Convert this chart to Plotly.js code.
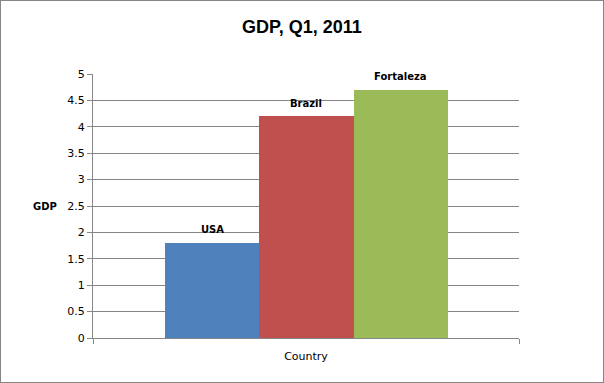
<!DOCTYPE html>
<html>
<head>
<meta charset="utf-8">
<script src="https://cdn.plot.ly/plotly-3.0.1.min.js"></script>
<style>
  html, body { margin: 0; padding: 0; background: #fff; }
  #wrap { position: relative; width: 604px; height: 383px; }
  #chart { position: absolute; left: 0; top: 0; width: 604px; height: 383px; }
  #frame { position: absolute; left: 0; top: 0; width: 604px; height: 383px; box-sizing: border-box; border: 1px solid #868686; pointer-events: none; }
</style>
</head>
<body>
<div id="wrap">
  <div id="chart"></div>
  <div id="frame"></div>
</div>
<script>
// Data
const countries = ['USA', 'Brazil', 'Fortaleza'];
const gdp = [1.8, 4.2, 4.7];
const barColors = ['#4F81BD', '#C0504D', '#9BBB59'];
const categoryLabel = 'Country';
const chartTitle = 'GDP, Q1, 2011';
const yTitle = 'GDP';

const gray = '#868686';
const xRange = [-1.263, 3.253];

const trace = {
  type: 'bar',
  x: countries,
  y: gdp,
  marker: { color: barColors, line: { width: 0 } },
  hoverinfo: 'skip'
};

const annotations = countries.map((c, i) => ({
  x: c, y: gdp[i], xref: 'x', yref: 'y',
  text: '<b>' + c + '</b>',
  showarrow: false, yanchor: 'middle', yshift: 13,
  font: { family: 'DejaVu Sans', size: 10, color: '#000' }
}));
annotations.push({
  xref: 'paper', yref: 'paper', x: -0.113, y: 0.5,
  xanchor: 'center', yanchor: 'middle', showarrow: false,
  text: '<b>' + yTitle + '</b>',
  font: { family: 'DejaVu Sans', size: 10, color: '#000' }
});

const layout = {
  width: 604, height: 383,
  margin: { l: 93, r: 85, t: 74, b: 45, pad: 0 },
  paper_bgcolor: '#fff', plot_bgcolor: '#fff',
  showlegend: false,
  bargap: 0,
  title: {
    text: '<b>' + chartTitle + '</b>',
    x: 0.5, xanchor: 'center', xref: 'container',
    y: 0.929, yref: 'container', yanchor: 'middle',
    font: { family: 'Liberation Sans', size: 18, color: '#000' }
  },
  xaxis: {
    type: 'category',
    range: xRange,
    showline: true, linecolor: gray, linewidth: 1,
    showgrid: false, zeroline: false,
    tickmode: 'array', tickvals: xRange, ticktext: ['', ''],
    ticks: 'outside', ticklen: 5, tickcolor: gray,
    showticklabels: false,
    fixedrange: true,
    title: { text: categoryLabel, standoff: 9, font: { family: 'DejaVu Sans', size: 11, color: '#000' } },
    automargin: false
  },
  yaxis: {
    range: [0, 5], dtick: 0.5, tick0: 0,
    showline: true, linecolor: gray, linewidth: 1,
    showgrid: true, gridcolor: gray, gridwidth: 1,
    zeroline: false,
    ticks: 'outside', ticklen: 5, tickcolor: gray,
    tickfont: { family: 'DejaVu Sans', size: 11, color: '#000' },
    fixedrange: true,
    automargin: false
  },
  annotations: annotations
};

Plotly.newPlot('chart', [trace], layout, { staticPlot: true, displayModeBar: false });
</script>
</body>
</html>
